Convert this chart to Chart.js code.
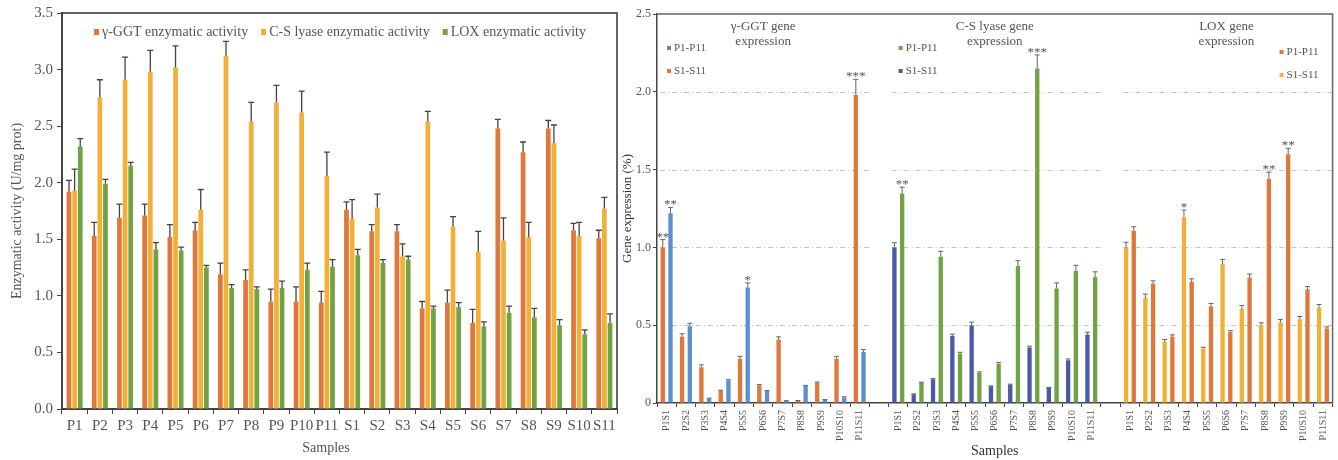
<!DOCTYPE html>
<html>
<head>
<meta charset="utf-8">
<script src="https://cdn.jsdelivr.net/npm/chart.js@4.4.1/dist/chart.umd.min.js"></script>
<style>
  body { margin: 0; background: #fff; }
  #wrap { position: relative; width: 1338px; height: 460px; }
  #c1 { position: absolute; left: 0; top: 0; }
  #c2 { position: absolute; left: 620px; top: 0; }
</style>
</head>
<body>
<div id="wrap">
  <canvas id="c1" width="624" height="460"></canvas>
  <canvas id="c2" width="718" height="460"></canvas>
</div>
<script>
const SERIF = "'Liberation Serif', 'Times New Roman', serif";
const ORANGE = '#E0773B';
const YELLOW = '#F2B136';
const GREEN = '#71A243';
const LIGHT_BLUE = '#5C8FCF';
const DARK_BLUE = '#4A5AA8';

// Left panel: enzymatic activity (U/mg prot)
const samples = ['P1', 'P2', 'P3', 'P4', 'P5', 'P6', 'P7', 'P8', 'P9', 'P10', 'P11',
                 'S1', 'S2', 'S3', 'S4', 'S5', 'S6', 'S7', 'S8', 'S9', 'S10', 'S11'];
const ggtActivity    = [1.92, 1.53, 1.69, 1.71, 1.52, 1.58, 1.19, 1.14, 0.95, 0.95, 0.94,
                        1.76, 1.57, 1.57, 0.89, 0.94, 0.76, 2.48, 2.27, 2.48, 1.58, 1.51];
const ggtActivityErr = [0.10, 0.12, 0.12, 0.10, 0.11, 0.07, 0.10, 0.09, 0.11, 0.13, 0.10,
                        0.07, 0.06, 0.06, 0.06, 0.11, 0.12, 0.08, 0.09, 0.07, 0.06, 0.07];
const csActivity     = [1.93, 2.75, 2.91, 2.98, 3.02, 1.76, 3.12, 2.54, 2.71, 2.62, 2.06,
                        1.68, 1.78, 1.35, 2.54, 1.61, 1.39, 1.49, 1.52, 2.35, 1.53, 1.77];
const csActivityErr  = [0.19, 0.16, 0.20, 0.19, 0.19, 0.18, 0.13, 0.17, 0.15, 0.19, 0.21,
                        0.17, 0.12, 0.11, 0.09, 0.09, 0.18, 0.20, 0.13, 0.16, 0.12, 0.10];
const loxActivity    = [2.32, 1.99, 2.15, 1.41, 1.40, 1.25, 1.07, 1.06, 1.07, 1.23, 1.26,
                        1.36, 1.29, 1.32, 0.89, 0.90, 0.73, 0.85, 0.81, 0.74, 0.66, 0.76];
const loxActivityErr = [0.07, 0.04, 0.03, 0.06, 0.03, 0.02, 0.03, 0.02, 0.06, 0.06, 0.06,
                        0.05, 0.03, 0.03, 0.02, 0.04, 0.04, 0.06, 0.08, 0.05, 0.04, 0.08];
const leftTicks = [0, 0.5, 1.0, 1.5, 2.0, 2.5, 3.0, 3.5];

// Right panel: gene expression (%), left bar = S1-S11, right bar = P1-P11
const pairs = ['P1S1', 'P2S2', 'P3S3', 'P4S4', 'P5S5', 'P6S6', 'P7S7', 'P8S8', 'P9S9', 'P10S10', 'P11S11'];
const groupTitles = [['γ-GGT gene', 'expression'], ['C-S lyase gene', 'expression'], ['LOX gene', 'expression']];

const ggtS    = [1.00, 0.425, 0.23, 0.077, 0.285, 0.114, 0.408, 0.013, 0.13, 0.285, 1.98];
const ggtSErr = [0.05, 0.02, 0.015, 0.005, 0.015, 0.005, 0.017, 0.003, 0.005, 0.015, 0.10];
const ggtP    = [1.22, 0.493, 0.028, 0.147, 0.742, 0.077, 0.013, 0.11, 0.02, 0.035, 0.328];
const ggtPErr = [0.037, 0.02, 0.003, 0.003, 0.03, 0.003, 0.002, 0.003, 0.002, 0.005, 0.015];
const csS     = [1.00, 0.056, 0.152, 0.43, 0.50, 0.107, 0.118, 0.357, 0.097, 0.275, 0.44];
const csSErr  = [0.03, 0.003, 0.005, 0.012, 0.02, 0.003, 0.003, 0.008, 0.003, 0.008, 0.015];
const csP     = [1.347, 0.131, 0.94, 0.318, 0.195, 0.253, 0.88, 2.15, 0.736, 0.85, 0.81];
const csPErr  = [0.04, 0.003, 0.035, 0.008, 0.005, 0.008, 0.035, 0.087, 0.036, 0.035, 0.033];
const loxS    = [0.997, 0.676, 0.393, 1.193, 0.35, 0.893, 0.605, 0.498, 0.519, 0.539, 0.614];
const loxSErr = [0.036, 0.024, 0.015, 0.047, 0.008, 0.03, 0.022, 0.017, 0.017, 0.017, 0.019];
const loxP    = [1.107, 0.768, 0.425, 0.779, 0.622, 0.457, 0.807, 1.44, 1.598, 0.731, 0.478];
const loxPErr = [0.026, 0.017, 0.013, 0.019, 0.018, 0.008, 0.022, 0.043, 0.039, 0.017, 0.011];

// significance marks
const ggtSStars = { 0: '**', 10: '***' };
const ggtPStars = { 0: '**', 4: '*' };
const csSStars  = {};
const csPStars  = { 0: '**', 7: '***' };
const loxSStars = { 3: '*' };
const loxPStars = { 7: '**', 8: '**' };

const rightTicks = [0, 0.5, 1.0, 1.5, 2.0, 2.5];
const groupColorsS = [ORANGE, DARK_BLUE, YELLOW];
const groupColorsP = [LIGHT_BLUE, GREEN, ORANGE];

// join the three groups with an empty slot between them
function joinGroups(a, b, c) { return [...a, null, ...b, null, ...c]; }
function joinStars(a, b, c) {
  const out = {};
  [a, b, c].forEach((g, k) => Object.keys(g).forEach(i => { out[+i + k * 12] = g[i]; }));
  return out;
}
const rightLabels = [...pairs, '', ...pairs, '', ...pairs];
const colorByGroup = cols => rightLabels.map((_, i) => cols[Math.floor(i / 12)]);

// error bars (+ stars) on top of each bar
const errorBarsPlugin = {
  id: 'errorBars',
  afterDatasetsDraw(chart, args, opts) {
    const ctx = chart.ctx;
    const yScale = chart.scales.y;
    ctx.save();
    ctx.strokeStyle = opts.color;
    ctx.lineWidth = opts.width;
    ctx.fillStyle = opts.starColor || opts.color;
    ctx.font = (opts.starSize || 13) + 'px ' + SERIF;
    ctx.textAlign = 'center';
    ctx.textBaseline = 'alphabetic';
    chart.data.datasets.forEach((ds, i) => {
      const meta = chart.getDatasetMeta(i);
      meta.data.forEach((bar, j) => {
        const v = ds.data[j];
        if (v == null || !ds.errors || ds.errors[j] == null) return;
        const top = yScale.getPixelForValue(v + ds.errors[j]);
        ctx.beginPath();
        ctx.moveTo(bar.x, bar.y);
        ctx.lineTo(bar.x, top);
        ctx.moveTo(bar.x - opts.cap, top);
        ctx.lineTo(bar.x + opts.cap, top);
        ctx.stroke();
        if (ds.stars && ds.stars[j]) {
          ctx.fillText(ds.stars[j], bar.x, top + 1);
        }
      });
    });
    ctx.restore();
  }
};

// box, legend and x title of the left panel
const leftDecor = {
  id: 'leftDecor',
  afterDraw(chart) {
    const { ctx, chartArea: a } = chart;
    ctx.save();
    ctx.strokeStyle = '#333';
    ctx.lineWidth = 1.5;
    ctx.beginPath();
    ctx.moveTo(a.left, a.top);
    ctx.lineTo(a.right, a.top);
    ctx.lineTo(a.right, a.bottom);
    ctx.stroke();

    ctx.font = '14px ' + SERIF;
    ctx.textBaseline = 'middle';
    let x = 94;
    chart.data.datasets.forEach(ds => {
      ctx.fillStyle = ds.backgroundColor;
      ctx.fillRect(x, 29, 5, 6);
      ctx.fillStyle = '#555';
      ctx.fillText(ds.label, x + 8, 32);
      x += 8 + ctx.measureText(ds.label).width + 13;
    });

    ctx.textAlign = 'center';
    ctx.fillText('Samples', 326, 448);
    ctx.restore();
  }
};

new Chart(document.getElementById('c1'), {
  type: 'bar',
  data: {
    labels: samples,
    datasets: [
      { label: 'γ-GGT enzymatic activity', data: ggtActivity, errors: ggtActivityErr, backgroundColor: ORANGE },
      { label: 'C-S lyase enzymatic activity', data: csActivity, errors: csActivityErr, backgroundColor: YELLOW },
      { label: 'LOX enzymatic activity', data: loxActivity, errors: loxActivityErr, backgroundColor: GREEN }
    ]
  },
  options: {
    responsive: false,
    animation: false,
    layout: { padding: { top: 13, right: 7 } },
    datasets: { bar: { categoryPercentage: 0.67, barPercentage: 0.84 } },
    plugins: {
      legend: { display: false },
      tooltip: { enabled: false },
      errorBars: { color: '#444', width: 1.3, cap: 3 }
    },
    scales: {
      x: {
        grid: { drawOnChartArea: false, tickLength: 5, color: '#444', offset: true },
        border: { color: '#444', width: 2 },
        ticks: { font: { family: SERIF, size: 15 }, color: '#555', padding: 3, maxRotation: 0, autoSkip: false },
        afterFit: s => { s.height = 51; }
      },
      y: {
        min: 0, max: 3.5,
        afterBuildTicks: s => { s.ticks = leftTicks.map(v => ({ value: v })); },
        ticks: { callback: v => v.toFixed(1), font: { family: SERIF, size: 15 }, color: '#555', padding: 4 },
        grid: { drawOnChartArea: false, tickLength: 5, color: '#444' },
        border: { color: '#444', width: 2 },
        title: {
          display: true, text: 'Enzymatic activity (U/mg prot)',
          font: { family: SERIF, size: 14 }, color: '#555', padding: { top: 9, bottom: 0 }
        },
        afterFit: s => { s.width = 62; }
      }
    }
  },
  plugins: [errorBarsPlugin, leftDecor]
});

// gridlines only inside each group, group titles, legends and box
const rightDecor = {
  id: 'rightDecor',
  beforeDatasetsDraw(chart) {
    const { ctx, scales: { x, y } } = chart;
    const slot = x.width / rightLabels.length;
    ctx.save();
    ctx.strokeStyle = '#c4c4c4';
    ctx.lineWidth = 1;
    ctx.setLineDash([5, 3, 1, 3]);
    [0.5, 1.0, 1.5, 2.0].forEach(v => {
      const py = Math.round(y.getPixelForValue(v)) + 0.5;
      for (let g = 0; g < 3; g++) {
        const x0 = x.getPixelForValue(g * 12) - slot / 2 + 3;
        const x1 = x.getPixelForValue(g * 12 + 10) + slot / 2;
        ctx.beginPath();
        ctx.moveTo(x0, py);
        ctx.lineTo(x1, py);
        ctx.stroke();
      }
    });
    ctx.restore();
  },
  afterDraw(chart) {
    const { ctx, chartArea: a, scales: { x } } = chart;
    const slot = x.width / rightLabels.length;
    ctx.save();
    ctx.strokeStyle = '#666';
    ctx.lineWidth = 1.5;
    ctx.beginPath();
    ctx.moveTo(a.left, a.top);
    ctx.lineTo(a.right, a.top);
    ctx.lineTo(a.right, a.bottom);
    ctx.stroke();

    ctx.fillStyle = '#555';
    ctx.textAlign = 'center';
    ctx.textBaseline = 'middle';
    ctx.font = '13px ' + SERIF;
    for (let g = 0; g < 3; g++) {
      const x0 = x.getPixelForValue(g * 12) - slot / 2;
      const x1 = x.getPixelForValue(g * 12 + 10) + slot / 2;
      const cx = (x0 + x1) / 2;
      ctx.fillText(groupTitles[g][0], cx, 27);
      ctx.fillText(groupTitles[g][1], cx, 42);
    }

    // legends: P1-P11 first, S1-S11 second
    ctx.textAlign = 'left';
    ctx.font = '11px ' + SERIF;
    const legendPos = [
      [x.getPixelForValue(0) - slot / 2 + 10, 48],
      [x.getPixelForValue(12) - slot / 2 + 10, 48],
      [x.getPixelForValue(34) + slot / 2 - 53, 52]
    ];
    legendPos.forEach(([lx, ly], g) => {
      [[groupColorsP[g], 'P1-P11'], [groupColorsS[g], 'S1-S11']].forEach(([c, t], k) => {
        const yy = ly + k * 23;
        ctx.fillStyle = c;
        ctx.fillRect(lx, yy - 2, 4, 4);
        ctx.fillStyle = '#555';
        ctx.fillText(t, lx + 7, yy);
      });
    });
    ctx.restore();
  }
};

new Chart(document.getElementById('c2'), {
  type: 'bar',
  data: {
    labels: rightLabels,
    datasets: [
      {
        label: 'S1-S11',
        data: joinGroups(ggtS, csS, loxS),
        errors: joinGroups(ggtSErr, csSErr, loxSErr),
        stars: joinStars(ggtSStars, csSStars, loxSStars),
        backgroundColor: colorByGroup(groupColorsS)
      },
      {
        label: 'P1-P11',
        data: joinGroups(ggtP, csP, loxP),
        errors: joinGroups(ggtPErr, csPErr, loxPErr),
        stars: joinStars(ggtPStars, csPStars, loxPStars),
        backgroundColor: colorByGroup(groupColorsP)
      }
    ]
  },
  options: {
    responsive: false,
    animation: false,
    layout: { padding: { top: 14, right: 5 } },
    datasets: { bar: { categoryPercentage: 0.8, barPercentage: 0.56 } },
    plugins: {
      legend: { display: false },
      tooltip: { enabled: false },
      errorBars: { color: '#666', width: 1, cap: 2.5, starSize: 13, starColor: '#555' }
    },
    scales: {
      x: {
        grid: { drawOnChartArea: false, tickLength: 4, color: '#444', offset: true },
        border: { color: '#444', width: 1.5 },
        ticks: { font: { family: SERIF, size: 10 }, color: '#555', padding: 3, minRotation: 90, maxRotation: 90, autoSkip: false },
        title: { display: true, text: 'Samples', font: { family: SERIF, size: 14 }, color: '#333', padding: { top: 0, bottom: 0 } },
        afterFit: s => { s.height = 57; }
      },
      y: {
        min: 0, max: 2.5,
        afterBuildTicks: s => { s.ticks = rightTicks.map(v => ({ value: v })); },
        ticks: { callback: v => v === 0 ? '0' : v.toFixed(1), font: { family: SERIF, size: 12 }, color: '#555', padding: 2 },
        grid: { drawOnChartArea: false, tickLength: 4, color: '#444' },
        border: { color: '#444', width: 1.5 },
        title: {
          display: true, text: 'Gene expression (%)',
          font: { family: SERIF, size: 13 }, color: '#333', padding: { top: 0, bottom: 0 }
        },
        afterFit: s => { s.width = 37; }
      }
    }
  },
  plugins: [errorBarsPlugin, rightDecor]
});
</script>
</body>
</html>
